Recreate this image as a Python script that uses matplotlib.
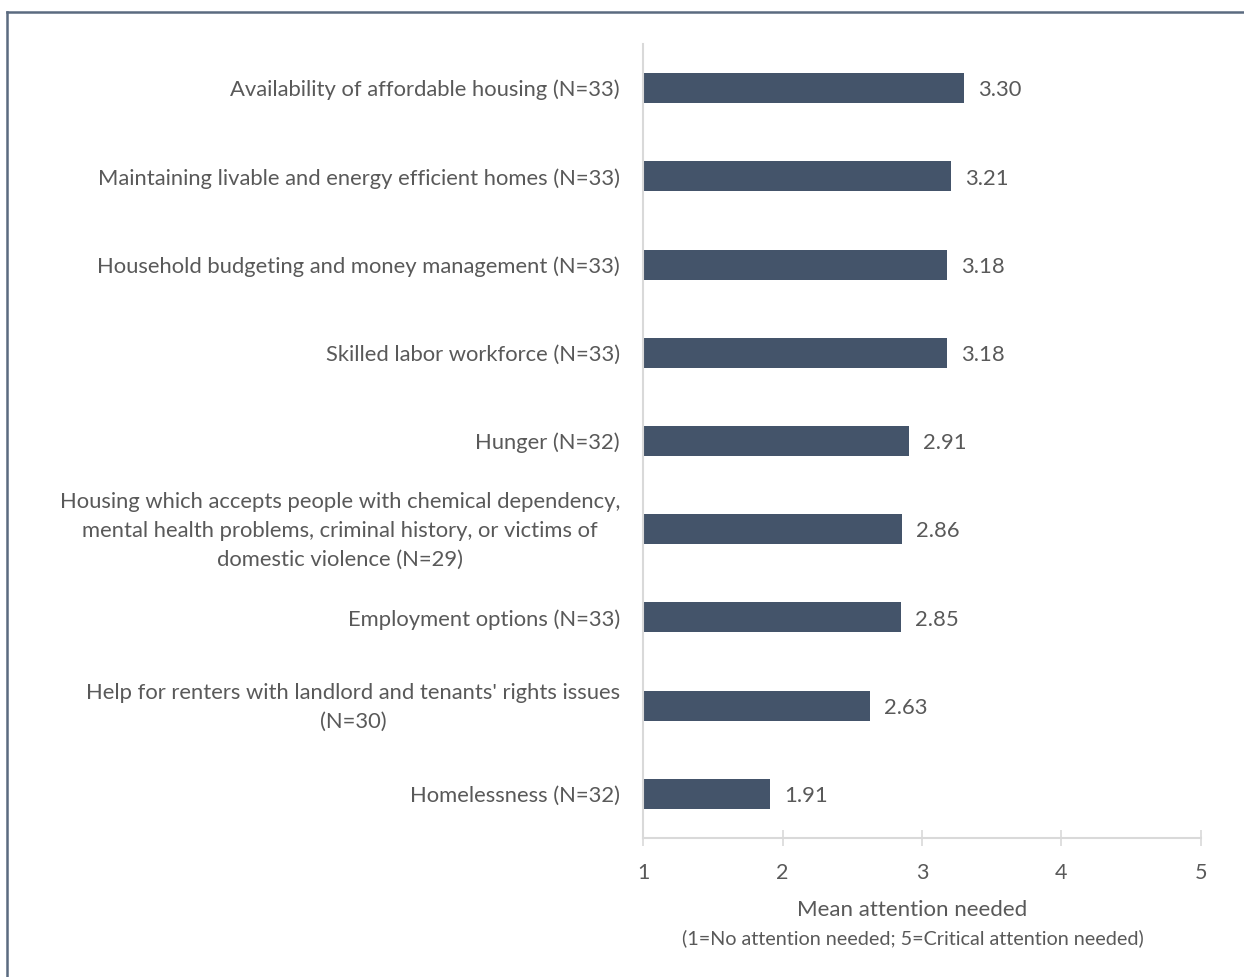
import matplotlib.pyplot as plt
import matplotlib.transforms as mtransforms
from matplotlib.lines import Line2D

categories = [
    "Availability of affordable housing (N=33)",
    "Maintaining livable and energy efficient homes (N=33)",
    "Household budgeting and money management (N=33)",
    "Skilled labor workforce (N=33)",
    "Hunger (N=32)",
    "Housing which accepts people with chemical dependency,\nmental health problems, criminal history, or victims of\ndomestic violence (N=29)",
    "Employment options (N=33)",
    "Help for renters with landlord and tenants' rights issues\n(N=30)",
    "Homelessness (N=32)",
]
means = [3.30, 3.21, 3.18, 3.18, 2.91, 2.86, 2.85, 2.63, 1.91]
xticks = [1, 2, 3, 4, 5]

bar_color = '#44546A'
text_color = '#595959'
axis_color = '#D9D9D9'

plt.rcParams['font.family'] = ['Lato', 'DejaVu Sans']

fig = plt.figure(figsize=(12.44, 9.77), dpi=100)
ax = fig.add_axes([0.5169, 0.1423, 0.9654 - 0.5169, 0.955 - 0.1423])

y = list(range(len(categories)))
base = 1
ax.barh(y, [m - base for m in means], left=base, height=0.34, color=bar_color)
for yi, m in zip(y, means):
    ax.text(m + 0.1, yi + 0.025, f"{m:.2f}", va='center', ha='left', fontsize=15.8, color=text_color)

ax.set_xlim(1, 5)
ax.set_ylim(len(categories) - 0.5, -0.5)
ax.set_xticks(xticks)
ax.set_xticklabels([str(t) for t in xticks])
ax.set_yticks(y)
ax.set_yticklabels(categories, ha='right', multialignment='center', linespacing=1.55)
ax.tick_params(axis='y', length=0, pad=16.5, labelsize=15.8, labelcolor=text_color)
ax.tick_params(axis='x', direction='inout', length=12, width=1.2, color=axis_color,
               pad=12, labelsize=15.5, labelcolor=text_color)

# nudge the wrapped labels up a little
shift = mtransforms.ScaledTranslation(0, 0.05, fig.dpi_scale_trans)
for lab in ax.get_yticklabels():
    if '\n' in lab.get_text():
        lab.set_transform(lab.get_transform() + shift)

for s in ['top', 'right']:
    ax.spines[s].set_visible(False)
for s in ['left', 'bottom']:
    ax.spines[s].set_color(axis_color)
    ax.spines[s].set_linewidth(1.5)

ax.text(0.483, -0.091, "Mean attention needed", transform=ax.transAxes,
        ha='center', va='center', fontsize=16, color=text_color)
ax.text(0.483, -0.126, "(1=No attention needed; 5=Critical attention needed)", transform=ax.transAxes,
        ha='center', va='center', fontsize=14.2, color=text_color)

# frame lines at the top and left of the picture
fig.add_artist(Line2D([7.5 / 1244, 7.5 / 1244], [0, 1 - 11.5 / 977], transform=fig.transFigure,
                      color='#5B6B80', linewidth=1.8))
fig.add_artist(Line2D([7.5 / 1244, 1], [1 - 11.5 / 977, 1 - 11.5 / 977], transform=fig.transFigure,
                      color='#5B6B80', linewidth=1.8))

fig.savefig('out.png', dpi=100)
